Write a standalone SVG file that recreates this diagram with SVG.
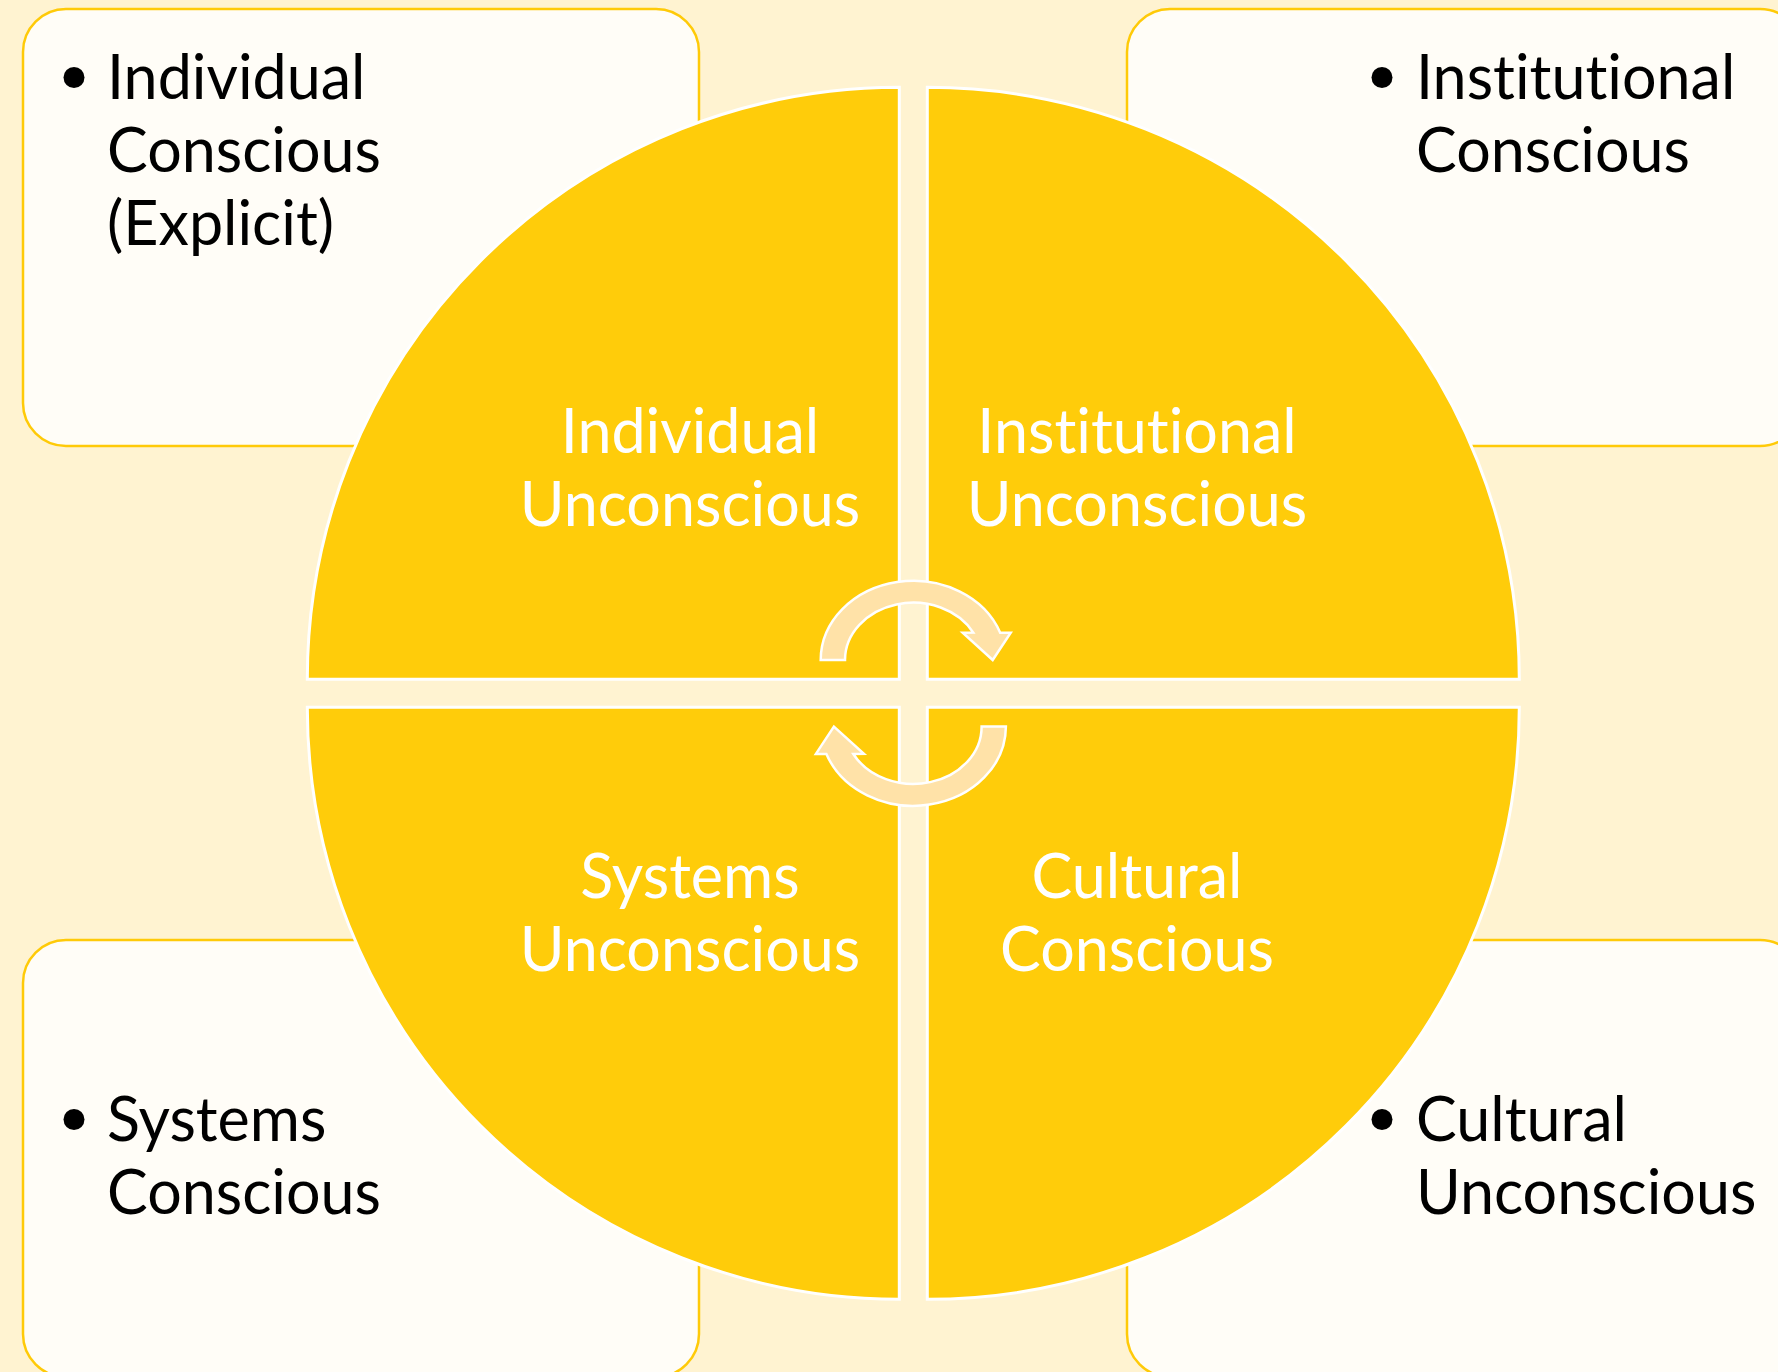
<svg xmlns="http://www.w3.org/2000/svg" width="1778" height="1372" viewBox="0 0 1778 1372">
<style>
.box{fill:#FFFDF7;stroke:#FFCA08;stroke-width:2.5}
.quad{fill:#FFCC0A;stroke:#FFFFFF;stroke-width:3}
.arrow{fill:#FFE2A8;stroke:#FFFFFF;stroke-width:2.5;stroke-linejoin:miter}
.bt{font-family:Lato,"Open Sans","Liberation Sans",sans-serif;font-size:61px;fill:#000000;font-variant-ligatures:none;font-feature-settings:"liga" 0,"dlig" 0}
.qt{font-family:Lato,"Open Sans","Liberation Sans",sans-serif;font-size:61px;font-weight:400;fill:#FFFFFF;text-anchor:middle;font-variant-ligatures:none;font-feature-settings:"liga" 0,"dlig" 0}
.dot{fill:#000000}
</style>
<rect x="0" y="0" width="1778" height="1372" fill="#FFF3D1"/>

<g id="box-individual-conscious">
<rect class="box" x="23" y="9" width="676" height="437" rx="43" ry="43"/>
<circle class="dot" cx="74" cy="77.5" r="10.5"/>
<text class="bt" x="107" y="99">Individual</text>
<text class="bt" x="107" y="172">Conscious</text>
<text class="bt" x="107" y="245">(Explicit)</text>
</g>

<g id="box-institutional-conscious">
<rect class="box" x="1127" y="9" width="676" height="437" rx="43" ry="43"/>
<circle class="dot" cx="1382" cy="77.5" r="10.5"/>
<text class="bt" x="1416" y="99">Institutional</text>
<text class="bt" x="1416" y="172">Conscious</text>
</g>

<g id="box-systems-conscious">
<rect class="box" x="23" y="940" width="676" height="437" rx="43" ry="43"/>
<circle class="dot" cx="74" cy="1119.5" r="10.5"/>
<text class="bt" x="107" y="1141">Systems</text>
<text class="bt" x="107" y="1214">Conscious</text>
</g>

<g id="box-cultural-unconscious">
<rect class="box" x="1127" y="940" width="676" height="437" rx="43" ry="43"/>
<circle class="dot" cx="1382" cy="1119.5" r="10.5"/>
<text class="bt" x="1416" y="1141">Cultural</text>
<text class="bt" x="1416" y="1214">Unconscious</text>
</g>

<g id="quad-individual-unconscious">
<path class="quad" d="M 899.3 679.3 L 307.3 679.3 A 592 592 0 0 1 899.3 87.3 Z"/>
<text class="qt" x="690" y="453">Individual</text>
<text class="qt" x="690" y="526">Unconscious</text>
</g>

<g id="quad-institutional-unconscious">
<path class="quad" d="M 927.3 679.3 L 927.3 87.3 A 592 592 0 0 1 1519.3 679.3 Z"/>
<text class="qt" x="1137" y="453">Institutional</text>
<text class="qt" x="1137" y="526">Unconscious</text>
</g>

<g id="quad-systems-unconscious">
<path class="quad" d="M 899.3 707.3 L 899.3 1299.3 A 592 592 0 0 1 307.3 707.3 Z"/>
<text class="qt" x="690" y="898">Systems</text>
<text class="qt" x="690" y="971">Unconscious</text>
</g>

<g id="quad-cultural-conscious">
<path class="quad" d="M 927.3 707.3 L 1519.3 707.3 A 592 592 0 0 1 927.3 1299.3 Z"/>
<text class="qt" x="1137" y="898">Cultural</text>
<text class="qt" x="1137" y="971">Conscious</text>
</g>

<g id="connectors">
<path class="arrow" d="M 820.7 660 L 845 660 A 68.3 57.3 0 0 1 973.3 632.6 L 962.7 632.7 L 992.7 660 L 1010.7 632.7 L 1000.2 632.7 A 92.6 79.3 0 0 0 820.7 660 Z"/>
<path class="arrow" transform="rotate(180 913.3 693.3)" d="M 820.7 660 L 845 660 A 68.3 57.3 0 0 1 973.3 632.6 L 962.7 632.7 L 992.7 660 L 1010.7 632.7 L 1000.2 632.7 A 92.6 79.3 0 0 0 820.7 660 Z"/>
</g>
</svg>
